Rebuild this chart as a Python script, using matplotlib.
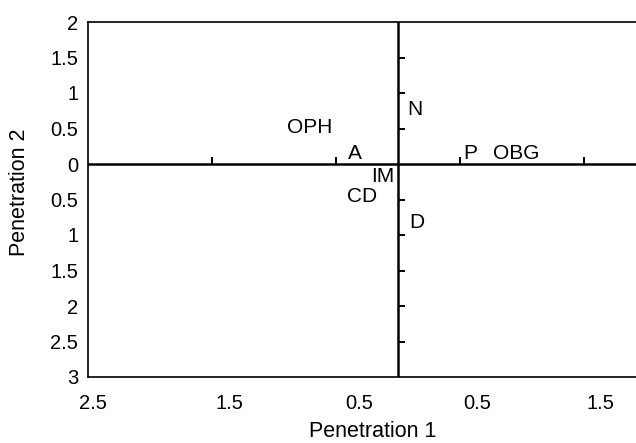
import matplotlib
matplotlib.use("Agg")
import matplotlib.pyplot as plt
import matplotlib.transforms as mtransforms
from matplotlib.ticker import FuncFormatter

plt.rcParams['font.family'] = ['Liberation Sans', 'DejaVu Sans']

# positions of each group on the two penetration axes
groups = ['OPH', 'A', 'N', 'P', 'OBG', 'IM', 'CD', 'D']
pen1 = [-0.71, -0.35, 0.14, 0.58, 0.95, -0.12, -0.29, 0.15]
pen2 = [0.51, 0.15, 0.77, 0.15, 0.15, -0.18, -0.46, -0.83]

x_ticks = [-2.5, -1.5, -0.5, 0.5, 1.5]
y_ticks = [2, 1.5, 1, 0.5, 0, -0.5, -1, -1.5, -2, -2.5, -3]
# small marks drawn on the central cross
x_marks = [-1.5, -0.5, 0.5, 1.5]
y_marks = [1.5, 1, 0.5, -0.5, -1, -1.5, -2, -2.5]

fig = plt.figure(figsize=(6.36, 4.43), dpi=100)
ax = fig.add_axes([88 / 636, 66 / 443, 548 / 636, 355 / 443])
ax.set_xlim(-2.5, 1.92)
ax.set_ylim(-3, 2)

for side in ['left', 'top', 'bottom']:
    ax.spines[side].set_linewidth(1.2)
ax.spines['right'].set_visible(False)

# central cross with tick marks
ax.axhline(0, color='black', lw=1.8, zorder=2)
ax.axvline(0, color='black', lw=1.8, zorder=2)
ax.plot(x_marks, [0] * len(x_marks), ls='none', marker=2, ms=5, mew=1.4, color='black')
ax.plot([0] * len(y_marks), y_marks, ls='none', marker=1, ms=5, mew=1.4, color='black')

abs_fmt = FuncFormatter(lambda v, pos: '%g' % abs(v))
ax.set_xticks(x_ticks)
ax.set_yticks(y_ticks)
ax.xaxis.set_major_formatter(abs_fmt)
ax.yaxis.set_major_formatter(abs_fmt)
ax.tick_params(axis='x', length=0, pad=12, labelsize=14.5)
ax.tick_params(axis='y', length=0, pad=7, labelsize=14.5)

# label offsets as in the original figure (pixels)
shifts = [5, 17, 23, 17, 17]
for lab, dx in zip(ax.get_xticklabels(), shifts):
    lab.set_transform(lab.get_transform() + mtransforms.ScaledTranslation(dx / 100, 0, fig.dpi_scale_trans))

for name, x, y in zip(groups, pen1, pen2):
    ax.text(x, y, name, ha='center', va='center', fontsize=15)

ax.set_xlabel('Penetration 1', fontsize=15.5)
ax.set_ylabel('Penetration 2', fontsize=15.5)
ax.xaxis.set_label_coords((373 - 88) / 548, -0.125)
ax.yaxis.set_label_coords((30 - 88) / 548, 0.52)

fig.savefig('out.png', dpi=100)
